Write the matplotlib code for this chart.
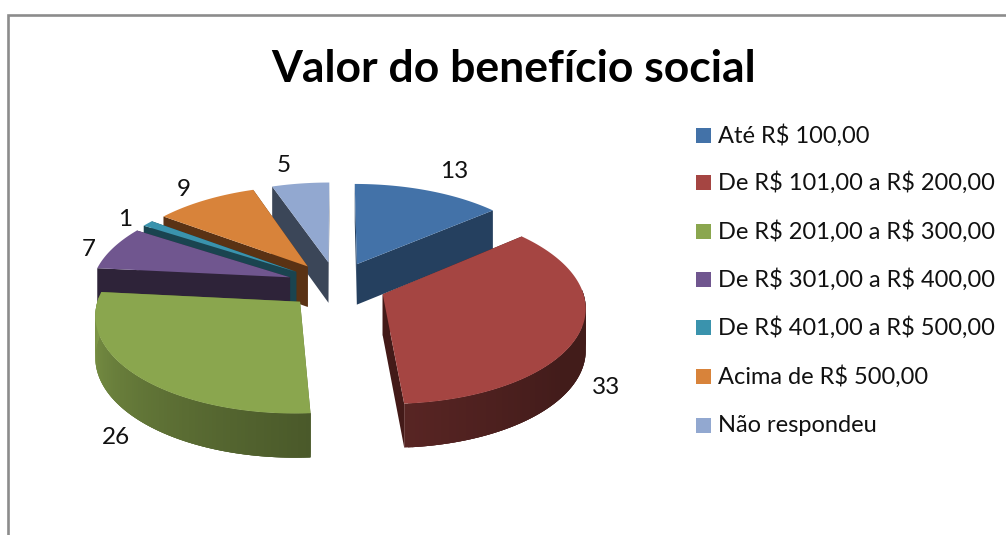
import numpy as np
import matplotlib
matplotlib.use("Agg")
import matplotlib.pyplot as plt

plt.rcParams['font.family'] = ['Lato', 'DejaVu Sans']

# dados do grafico
categorias = ['Até R$ 100,00', 'De R$ 101,00 a R$ 200,00', 'De R$ 201,00 a R$ 300,00',
              'De R$ 301,00 a R$ 400,00', 'De R$ 401,00 a R$ 500,00',
              'Acima de R$ 500,00', 'Não respondeu']
valores = [13, 33, 26, 7, 1, 9, 5]
titulo = 'Valor do benefício social'

# estilo
cores = ['#4372a8', '#a54542', '#8aa64e', '#70568f', '#3a93ad', '#d8833a', '#92a8d0']
cores_parede = ['#25405f', '#431a18', '#5a6e32', '#2e2339', '#1a4450', '#5a3214', '#3b4658']
pos_rotulos = [(454, 172), (606, 387), (116, 438), (89, 249), (125, 220), (184, 189), (284, 165)]
leg_y = [135, 182, 231, 279, 327, 376, 425]

# projecao em perspectiva do disco (pixels)
cx, cy = 336.5, 285
Rx, Sy = 198.5, 94.3
p = 0.118
prof = 41
explode = 0.25


def proj(x, y):
    w = 1 + p * y
    return cx + Rx * x / w, cy - Sy * y / w, prof / np.sqrt(w)


def escurece(cor, f):
    rgb = np.array(matplotlib.colors.to_rgb(cor)) * f
    return tuple(rgb)


fig = plt.figure(figsize=(10.06, 5.35), dpi=100)
ax = fig.add_axes([0, 0, 1, 1])
ax.set_xlim(0, 1006)
ax.set_ylim(535, 0)
ax.axis('off')

# moldura (sem lado direito)
ax.plot([8.5, 8.5, 1006], [535, 14.5, 14.5], color='#8c8c8c', lw=1.9, solid_joinstyle='miter')

v = np.array(valores, dtype=float)
lim = np.concatenate([[0], np.cumsum(v)]) / v.sum() * 2 * np.pi
meio = (lim[:-1] + lim[1:]) / 2

# das fatias de tras para as da frente
for i in np.argsort(-np.cos(meio)):
    a0, a1 = lim[i], lim[i + 1]
    ox, oy = explode * np.sin(meio[i]), explode * np.cos(meio[i])
    ang = np.linspace(a0, a1, max(int((a1 - a0) * 60), 4))
    xs, ys, ds = proj(ox + np.sin(ang), oy + np.cos(ang))
    ax_, ay_, ad_ = proj(ox, oy)

    # paredes dos cortes
    for k in (0, -1):
        ax.fill([ax_, xs[k], xs[k], ax_], [ay_, ys[k], ys[k] + ds[k], ay_ + ad_],
                color=cores_parede[i], lw=0)

    # parede externa, so a parte virada para a frente
    # cada faixa recobre a anterior para nao deixar emendas
    for k in range(len(ang) - 1):
        if np.cos(ang[k]) > 0.05:
            continue
        t = (np.degrees(ang[k]) - 90) / 180
        f = max(0.4, 0.35 + 0.55 * max(t, 0) ** 1.5)
        c = escurece(cores[i], f)
        j = max(k - 2, 0)
        if np.cos(ang[j]) > 0.05:
            j = k
        ax.fill(np.r_[xs[j:k + 2], xs[j:k + 2][::-1]],
                np.r_[ys[j:k + 2], (ys + ds)[j:k + 2][::-1]],
                color=c, lw=0)

    # topo
    ax.fill(np.r_[ax_, xs], np.r_[ay_, ys], color=cores[i], lw=0)

# rotulos
for val, (x, y) in zip(valores, pos_rotulos):
    ax.text(x, y, str(val), ha='center', va='center', fontsize=17.5, color='#111111')

ax.text(514, 68.5, titulo, ha='center', va='center', fontsize=32, fontweight='bold', color='black')

# legenda
for nome, c, y in zip(categorias, cores, leg_y):
    ax.fill([696, 711, 711, 696], [y - 7.5, y - 7.5, y + 7.5, y + 7.5], color=c, lw=0)
    ax.text(718, y + 1, nome, ha='left', va='center', fontsize=17, color='#111111', parse_math=False)

fig.savefig('out.png', dpi=100)
